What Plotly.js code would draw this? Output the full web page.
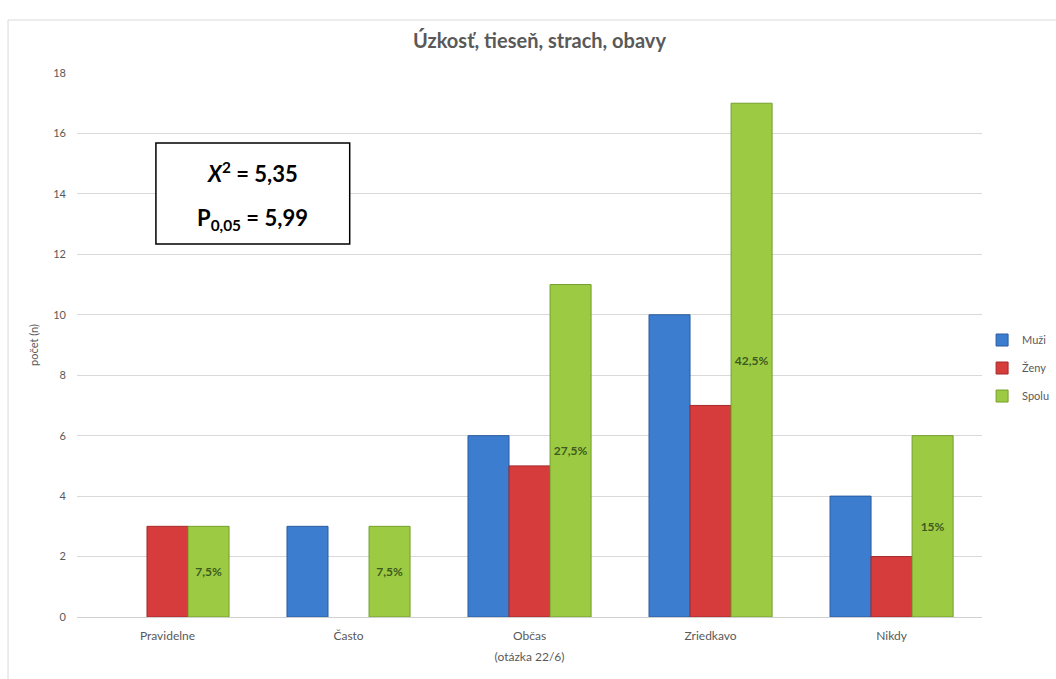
<!DOCTYPE html>
<html>
<head>
<meta charset="utf-8">
<script src="https://cdn.plot.ly/plotly-3.0.1.min.js"></script>
<style>
html,body{margin:0;padding:0;background:#fff;}
#chart{width:1056px;height:679px;}
</style>
</head>
<body>
<div id="chart"></div>
<script>
var categories = ["Pravidelne", "Často", "Občas", "Zriedkavo", "Nikdy"];
var muzi = [null, 3, 6, 10, 4];
var zeny = [3, null, 5, 7, 2];
var spolu = [3, 3, 11, 17, 6];
var spoluLabels = ["7,5%", "7,5%", "27,5%", "42,5%", "15%"];
var yTicks = [0, 2, 4, 6, 8, 10, 12, 14, 16, 18];

var FONT = "Lato, 'Open Sans', sans-serif";
var GRAY = "#595959";

var traces = [
  {type: "bar", name: "Muži", x: categories, y: muzi, legendgroup: "a",
   marker: {color: "#3D7DCF", line: {color: "#2A5C9F", width: 1}}},
  {type: "bar", name: "Ženy", x: categories, y: zeny, legendgroup: "b",
   marker: {color: "#D63C3C", line: {color: "#A52A2A", width: 1}}},
  {type: "bar", name: "Spolu", x: categories, y: spolu, legendgroup: "c",
   text: spoluLabels, textposition: "inside", insidetextanchor: "middle",
   textangle: 0, constraintext: "none",
   textfont: {family: FONT, size: 12, color: "#3E5A1E", weight: "bold"},
   marker: {color: "#9CCB43", line: {color: "#759E2E", width: 1}}}
];

var layout = {
  width: 1056, height: 679,
  margin: {l: 77, r: 73, t: 73, b: 62},
  paper_bgcolor: "#fff", plot_bgcolor: "#fff",
  font: {family: FONT, color: GRAY, size: 12},
  barmode: "group", bargap: 0.32, bargroupgap: 0,
  title: {text: "<b>Úzkosť, tieseň, strach, obavy</b>", x: 0.511, xref: "paper", xanchor: "center",
          y: 0.9396, yref: "container", yanchor: "middle", font: {family: FONT, size: 20, color: GRAY}},
  xaxis: {
    title: {text: "(otázka 22/6)", font: {family: FONT, size: 12, color: GRAY}, standoff: 10},
    showgrid: false, showline: true, linecolor: "#D0D0D0", linewidth: 1,
    ticks: "", ticklabelstandoff: 8, tickfont: {family: FONT, size: 12, color: GRAY}
  },
  yaxis: {
    title: {text: "počet (n)", font: {family: FONT, size: 11, color: GRAY}, standoff: 12},
    range: [0, 18], tickvals: yTicks, ticktext: yTicks.map(String),
    showgrid: true, gridcolor: "#D9D9D9", gridwidth: 1, zeroline: false,
    showline: false, ticks: "", ticklen: 0, ticklabelstandoff: 10,
    tickfont: {family: FONT, size: 11, color: GRAY}
  },
  legend: {xref: "container", yref: "container", x: 0.930, xanchor: "left", y: 0.458, yanchor: "middle",
           font: {family: FONT, size: 11, color: GRAY}, itemwidth: 30,
           tracegroupgap: 9, bgcolor: "rgba(0,0,0,0)"},
  shapes: [
    {type: "line", xref: "paper", yref: "paper", x0: -0.0762, x1: 1.2, y0: 1.0974, y1: 1.0974,
     line: {color: "#D9D9D9", width: 1}},
    {type: "line", xref: "paper", yref: "paper", x0: -0.0762, x1: -0.0762, y0: 1.0974, y1: -0.2,
     line: {color: "#D9D9D9", width: 1}},
    {type: "rect", xref: "paper", yref: "paper", x0: 0.0872, x1: 0.3013, y0: 0.6857, y1: 0.8713,
     line: {color: "#000", width: 1.5}, fillcolor: "#fff", layer: "above"}
  ],
  annotations: [
    {xref: "paper", yref: "paper", x: 0.1943, y: 0.817, xanchor: "center", yanchor: "middle", showarrow: false,
     text: "<b><i>X</i><sup>2</sup> = 5,35</b>", font: {family: FONT, size: 22, color: "#000"}},
    {xref: "paper", yref: "paper", x: 0.1943, y: 0.731, xanchor: "center", yanchor: "middle", showarrow: false,
     text: "<b>P<sub>0,05</sub> = 5,99</b>", font: {family: FONT, size: 22, color: "#000"}}
  ]
};

Plotly.newPlot("chart", traces, layout, {displayModeBar: false, staticPlot: true});
</script>
</body>
</html>
